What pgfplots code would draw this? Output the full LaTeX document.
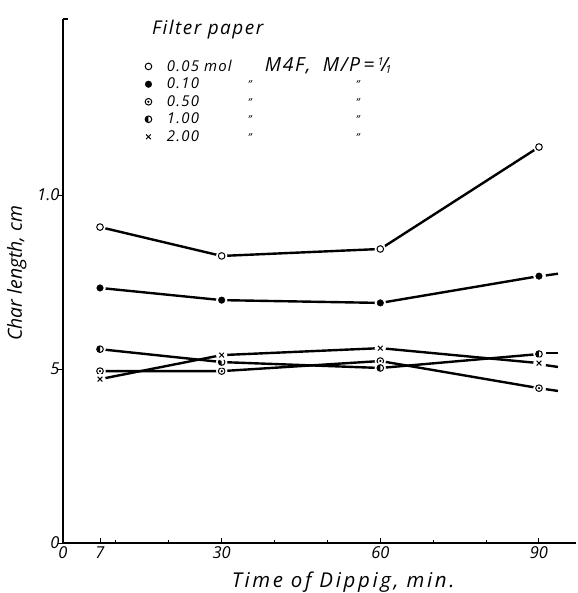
\documentclass[border=0pt]{standalone}
\usepackage{fontspec}
\setmainfont{Open Sans}
\newfontfamily\lsfont{Open Sans}[LetterSpace=8]
\newfontfamily\lsxfont{Open Sans}[LetterSpace=13]
\usepackage{pgfplots}
\usepackage{pgfplotstable}
\pgfplotsset{compat=1.18}
\usetikzlibrary{plotmarks}

\pgfdeclareplotmark{odot}{%
  \pgfpathcircle{\pgfpointorigin}{\pgfplotmarksize}\pgfusepathqstroke
  \pgfpathcircle{\pgfpointorigin}{0.38\pgfplotmarksize}\pgfusepathqfill}
\pgfdeclareplotmark{lhalf}{%
  \pgfpathmoveto{\pgfqpoint{0pt}{\pgfplotmarksize}}%
  \pgfpatharc{90}{270}{\pgfplotmarksize}%
  \pgfpathclose\pgfusepathqfill
  \pgfpathcircle{\pgfpointorigin}{\pgfplotmarksize}\pgfusepathqstroke}

\pgfplotstableread{
x y
7 0.908
30 0.825
60 0.845
90 1.138
}\sA
\pgfplotstableread{
x y
7 0.733
30 0.698
60 0.690
90 0.767
}\sB
\pgfplotstableread{
x y
7 0.494
30 0.494
60 0.523
90 0.445
}\sC
\pgfplotstableread{
x y
7 0.557
30 0.520
60 0.503
90 0.543
}\sD
\pgfplotstableread{
x y
7 0.471
30 0.540
60 0.560
90 0.517
}\sE

\newcommand{\frc}{\raisebox{0.55ex}{\fontsize{11}{11}\selectfont 1}\kern-0.12em/\kern-0.15em\raisebox{-0.25ex}{\fontsize{11}{11}\selectfont 1}}
\newcommand{\dit}{{\fontsize{11}{11}\selectfont\textquotedblright}}

\begin{document}
\begin{tikzpicture}
\begin{axis}[
  scale only axis, width=513bp, height=524bp,
  xmin=0, xmax=97, ymin=0, ymax=1.506,
  axis lines*=left,
  axis line style={line width=1.3bp},
  tick style={black, line width=1bp},
  tick align=inside,
  major tick length=5bp, minor tick length=3bp,
  xtick={0,7,30,60,90}, xticklabels={0,7,30,60,90},
  minor xtick={10,20,40,50,70,80},
  ytick={0,0.5,1.0}, yticklabels={0,5,1.0},
  y tick style={xshift=-5bp},
  /pgf/number format/assume math mode=true,
  ticklabel style={font=\itshape\fontsize{16.5}{16.5}\selectfont},
  xlabel={Time of Dippig, min.},
  ylabel={Char length, cm},
  xlabel style={font=\lsxfont\itshape\fontsize{20.5}{20.5}\selectfont, at={(axis description cs:0.546,-0.075)}, anchor=center},
  ylabel style={font=\itshape\fontsize{19.5}{19.5}\selectfont, at={(axis description cs:-0.09,0.515)}, anchor=center},
  legend style={draw=none, fill=none, at={(axis cs:15.5,1.393)}, anchor=north west,
    font=\lsfont\itshape\fontsize{15}{15}\selectfont, row sep=2.2bp, inner sep=0pt,
    nodes={inner sep=1.5bp}},
  legend cell align=left,
  legend image code/.code={\path[draw=none,fill=none] (0bp,-3bp) rectangle (20bp,3bp); \draw[#1, only marks] plot coordinates {(3bp,0bp)};},
]
\draw[line width=1.3bp] (rel axis cs:0,1) -- ++(5bp,0);
% series 0.05
\addplot[black, line width=2.4bp, forget plot] table {\sA};
\addplot[white, only marks, mark=*, mark size=5.5bp, forget plot] table {\sA};
\addplot[black, only marks, mark=o, mark size=3.3bp, mark options={line width=1bp, fill=white}] table {\sA};
\addlegendentry{\makebox[98bp][l]{0.05 mol}\smash{\fontsize{19.5}{19.5}\selectfont\makebox[58bp][l]{M4F,}M/P\,=\,\frc}}
% series 0.10
\addplot[black, line width=2.4bp, forget plot] table {\sB};
\addplot[black, line width=2.4bp, forget plot] coordinates {(91.3,0.769) (93.6,0.774)};
\addplot[white, only marks, mark=*, mark size=5.5bp, forget plot] table {\sB};
\addplot[black, only marks, mark=*, mark size=3.3bp] table {\sB};
\addlegendentry{\makebox[81bp][l]{0.10}\makebox[108bp][l]{\dit}\dit}
% series 0.50
\addplot[black, line width=2.4bp, forget plot] table {\sC};
\addplot[black, line width=2.4bp, forget plot] coordinates {(91.3,0.442) (93.6,0.437)};
\addplot[white, only marks, mark=*, mark size=5.5bp, forget plot] table {\sC};
\addplot[black, only marks, mark=odot, mark size=3.3bp, mark options={line width=1bp, fill=black}] table {\sC};
\addlegendentry{\makebox[81bp][l]{0.50}\makebox[108bp][l]{\dit}\dit}
% series 1.00
\addplot[black, line width=2.4bp, forget plot] table {\sD};
\addplot[black, line width=2.4bp, forget plot] coordinates {(91.3,0.546) (93.6,0.546)};
\addplot[white, only marks, mark=*, mark size=5.5bp, forget plot] table {\sD};
\addplot[black, only marks, mark=lhalf, mark size=3.3bp, mark options={line width=1bp, fill=black}] table {\sD};
\addlegendentry{\makebox[81bp][l]{1.00}\makebox[108bp][l]{\dit}\dit}
% series 2.00
\addplot[black, line width=2.4bp, forget plot] table {\sE};
\addplot[black, line width=2.4bp, forget plot] coordinates {(91.3,0.511) (93.6,0.506)};
\addplot[white, only marks, mark=*, mark size=5.5bp, forget plot] table {\sE};
\addplot[black, only marks, mark=x, mark size=3.3bp, mark options={line width=1bp}] table {\sE};
\addlegendentry{\makebox[81bp][l]{2.00}\makebox[108bp][l]{\dit}\dit}
\node[anchor=west, font=\lsfont\itshape\fontsize{19}{19}\selectfont, inner sep=0pt] at (axis cs:16.8,1.475) {Filter paper};
\coordinate (SW) at (rel axis cs:0,0);
\end{axis}
\pgfresetboundingbox
\path (SW) ++(-63bp,-50bp) rectangle ++(578bp,593bp);
\end{tikzpicture}
\end{document}
